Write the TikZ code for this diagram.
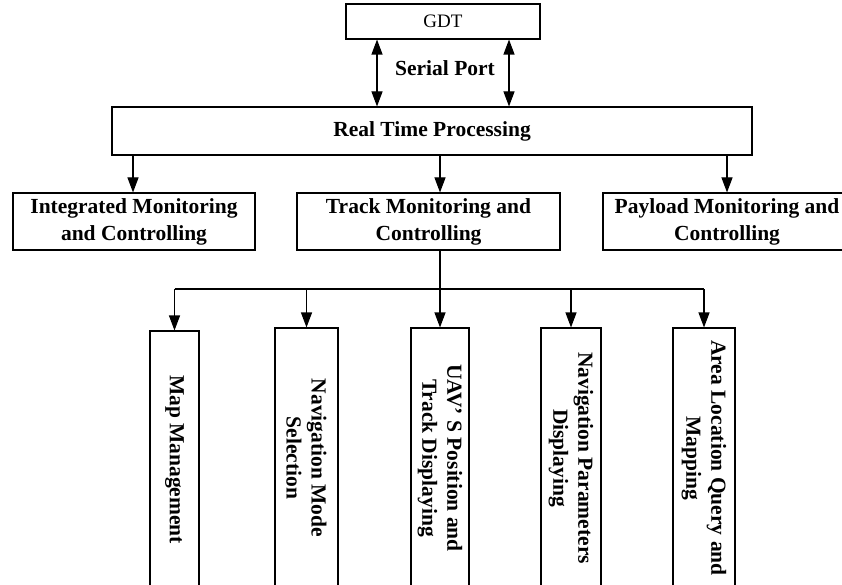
\documentclass[tikz,border=0pt]{standalone}
\usepackage{fontspec}
\setmainfont{Liberation Serif}
\usetikzlibrary{arrows.meta}
\tikzset{
  box/.style={draw, line width=1.1pt, inner sep=0pt, align=center,
    font=\fontsize{21.5}{27}\selectfont\bfseries},
  vbox/.style={box, rotate=-90, font=\fontsize{21.5}{25}\selectfont\bfseries},
  tip/.tip={Triangle[length=15pt,width=11pt]},
  arr/.style={-tip, line width=1.1pt},
  darr/.style={tip-tip, line width=1.1pt},
  lbl/.style={font=\fontsize{21.5}{27}\selectfont\bfseries, inner sep=0pt}
}
\begin{document}
\begin{tikzpicture}[x=1pt,y=-1pt]
\useasboundingbox (0,0) rectangle (842,585);
\clip (0,0) rectangle (842,585);
% top level
\node[box, font=\fontsize{19}{23}\selectfont, minimum width=194pt, minimum height=35pt] (gdt) at (443,21.5) {GDT};
\node[box, minimum width=640pt, minimum height=48pt] (rt) at (432,131) {Real Time Processing};
\node[lbl] (sp) at (445,68) {Serial Port};
% second level
\node[box, minimum width=242pt, minimum height=57pt] (integ) at (134,221.5) {Integrated Monitoring\\and Controlling};
\node[box, minimum width=263pt, minimum height=57pt] (track) at (428.5,221.5) {Track Monitoring and\\Controlling};
\node[box, minimum width=248pt, minimum height=57pt] (pay) at (727,221.5) {Payload Monitoring and\\Controlling};
% third level
\node[vbox, minimum width=257pt, minimum height=49pt] (map) at (174.5,459.5) {Map Management};
\node[vbox, minimum width=260pt, minimum height=63pt] (nav) at (306.5,458) {Navigation Mode\\Selection};
\node[vbox, minimum width=260pt, minimum height=58pt] (uav) at (440,458) {UAV’ S Position and\\Track Displaying};
\node[vbox, minimum width=260pt, minimum height=60pt] (par) at (571,458) {Navigation Parameters\\Displaying};
\node[vbox, minimum width=260pt, minimum height=62pt] (area) at (704,458) {Area Location Query and\\Mapping};
% serial port arrows
\coordinate (s1) at (377,70);
\coordinate (s2) at (509,70);
\draw[darr] (gdt.south -| s1) -- (rt.north -| s1);
\draw[darr] (gdt.south -| s2) -- (rt.north -| s2);
% real time to second level
\coordinate (r1) at (133,170);
\coordinate (r2) at (440,170);
\coordinate (r3) at (727,170);
\draw[arr] (rt.south -| r1) -- (integ.north -| r1);
\draw[arr] (rt.south -| r2) -- (track.north -| r2);
\draw[arr] (rt.south -| r3) -- (pay.north -| r3);
% bus
\coordinate (bc) at (440,289);
\coordinate (b1) at (174.5,289);
\coordinate (b2) at (306.5,289);
\coordinate (b4) at (571,289);
\coordinate (b5) at (704,289);
\draw[line width=1.1pt] (track.south -| bc) -- (bc);
\draw[line width=1.1pt] (b1) -- (b5);
\draw[arr] (b1) -- (map.west);
\draw[arr] (b2) -- (nav.west);
\draw[arr] (bc) -- (uav.west);
\draw[arr] (b4) -- (par.west);
\draw[arr] (b5) -- (area.west);
\end{tikzpicture}
\end{document}
